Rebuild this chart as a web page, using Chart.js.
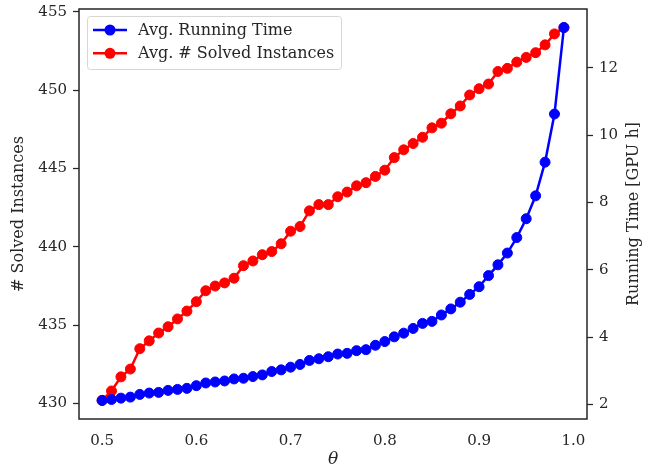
<!DOCTYPE html>
<html>
<head>
<meta charset="utf-8">
<script src="https://cdn.jsdelivr.net/npm/chart.js@4.4.1/dist/chart.umd.min.js"></script>
<style>
  body { margin: 0; background: #fff; }
</style>
</head>
<body>
<canvas id="chart" width="656" height="471"></canvas>
<script>
// theta values (x axis)
const theta = [
  0.50, 0.51, 0.52, 0.53, 0.54, 0.55, 0.56, 0.57, 0.58, 0.59,
  0.60, 0.61, 0.62, 0.63, 0.64, 0.65, 0.66, 0.67, 0.68, 0.69,
  0.70, 0.71, 0.72, 0.73, 0.74, 0.75, 0.76, 0.77, 0.78, 0.79,
  0.80, 0.81, 0.82, 0.83, 0.84, 0.85, 0.86, 0.87, 0.88, 0.89,
  0.90, 0.91, 0.92, 0.93, 0.94, 0.95, 0.96, 0.97, 0.98, 0.99
];

// Avg. running time [GPU h] (right axis)
const runningTime = [
  2.12, 2.15, 2.19, 2.22, 2.30, 2.34, 2.36, 2.42, 2.45, 2.48,
  2.56, 2.64, 2.67, 2.70, 2.76, 2.78, 2.83, 2.88, 2.98, 3.03,
  3.11, 3.19, 3.31, 3.36, 3.42, 3.50, 3.52, 3.60, 3.63, 3.76,
  3.87, 4.01, 4.12, 4.26, 4.41, 4.47, 4.66, 4.84, 5.04, 5.27,
  5.50, 5.83, 6.15, 6.50, 6.96, 7.52, 8.20, 9.20, 10.63, 13.20
];

// Avg. # solved instances (left axis)
const solvedInstances = [
  430.2, 430.8, 431.7, 432.2, 433.5, 434.0, 434.5, 434.9, 435.4, 435.9,
  436.5, 437.2, 437.5, 437.7, 438.0, 438.8, 439.1, 439.5, 439.7, 440.2,
  441.0, 441.3, 442.3, 442.7, 442.7, 443.2, 443.5, 443.9, 444.1, 444.5,
  444.9, 445.7, 446.2, 446.6, 447.0, 447.6, 447.9, 448.5, 449.0, 449.7,
  450.1, 450.4, 451.2, 451.4, 451.8, 452.1, 452.4, 452.9, 453.6, 454.0
];

const xTicks = [0.5, 0.6, 0.7, 0.8, 0.9, 1.0];
const leftTicks = [430, 435, 440, 445, 450, 455];
const rightTicks = [2, 4, 6, 8, 10, 12];

const ink = '#262626';
Chart.defaults.font.family = "'DejaVu Serif', serif";
Chart.defaults.color = ink;

const toPoints = (ys) => theta.map((t, i) => ({ x: t, y: ys[i] }));
const setTicks = (vals) => (axis) => { axis.ticks = vals.map(v => ({ value: v })); };

// frame around the plot area + right-hand title (bottom-to-top like matplotlib)
const framePlugin = {
  id: 'frame',
  afterDatasetsDraw(chart) {
    const { ctx, chartArea: a } = chart;
    ctx.save();
    ctx.strokeStyle = ink;
    ctx.lineWidth = 1.5;
    ctx.strokeRect(a.left, a.top, a.right - a.left, a.bottom - a.top);
    ctx.restore();
  },
  afterDraw(chart) {
    const { ctx, chartArea: a } = chart;
    ctx.save();
    ctx.translate(634, (a.top + a.bottom) / 2);
    ctx.rotate(-Math.PI / 2);
    ctx.font = "16px 'DejaVu Serif'";
    ctx.fillStyle = ink;
    ctx.textAlign = 'center';
    ctx.textBaseline = 'middle';
    ctx.fillText('Running Time [GPU h]', 0, 0);
    ctx.restore();
  }
};

// legend with line + marker, top-left inside the plot
const legendPlugin = {
  id: 'legendBox',
  afterDraw(chart) {
    const { ctx, chartArea: a } = chart;
    const x = a.left + 8, y = a.top + 7, w = 254, h = 53;
    ctx.save();
    ctx.beginPath();
    ctx.roundRect(x + 0.5, y + 0.5, w, h, 3);
    ctx.fillStyle = 'rgba(255,255,255,0.8)';
    ctx.fill();
    ctx.strokeStyle = '#d6d6d6';
    ctx.lineWidth = 1;
    ctx.stroke();
    chart.data.datasets.forEach((ds, i) => {
      const cy = y + 14 + i * 23.3;
      ctx.strokeStyle = ds.borderColor;
      ctx.lineWidth = 2.5;
      ctx.beginPath();
      ctx.moveTo(x + 6, cy);
      ctx.lineTo(x + 40, cy);
      ctx.stroke();
      ctx.fillStyle = ds.borderColor;
      ctx.beginPath();
      ctx.arc(x + 23, cy, 5.5, 0, Math.PI * 2);
      ctx.fill();
      ctx.fillStyle = ink;
      ctx.font = "16px 'DejaVu Serif'";
      ctx.textAlign = 'left';
      ctx.textBaseline = 'middle';
      ctx.fillText(ds.label, x + 51, cy + 1);
    });
    ctx.restore();
  }
};

const fitY = (w) => (s) => { s.width = w; s.paddingTop = 0; s.paddingBottom = 0; };

new Chart(document.getElementById('chart'), {
  type: 'line',
  data: {
    datasets: [
      {
        label: 'Avg. Running Time',
        data: toPoints(runningTime),
        yAxisID: 'yRight',
        borderColor: '#0000ff',
        backgroundColor: '#0000ff',
        borderWidth: 2.5,
        pointRadius: 5,
        pointBorderWidth: 1,
        tension: 0
      },
      {
        label: 'Avg. # Solved Instances',
        data: toPoints(solvedInstances),
        yAxisID: 'yLeft',
        borderColor: '#ff0000',
        backgroundColor: '#ff0000',
        borderWidth: 2.5,
        pointRadius: 5,
        pointBorderWidth: 1,
        tension: 0
      }
    ]
  },
  options: {
    responsive: false,
    devicePixelRatio: 1,
    animation: false,
    layout: { padding: { top: 9, left: 0, right: 0, bottom: 0 } },
    plugins: { legend: { display: false }, tooltip: { enabled: false } },
    scales: {
      x: {
        type: 'linear',
        min: 0.4755,
        max: 1.0145,
        afterBuildTicks: setTicks(xTicks),
        afterFit: (s) => { s.height = 52; s.paddingLeft = 0; s.paddingRight = 0; },
        grid: { display: false },
        border: { display: false },
        ticks: { font: { size: 15 }, padding: 5, maxRotation: 0, callback: (v) => v.toFixed(1) },
        title: { display: true, text: 'θ', font: { size: 17, style: 'italic' }, padding: { top: 0, bottom: 1 } }
      },
      yLeft: {
        type: 'linear',
        position: 'left',
        min: 429.01,
        max: 455.19,
        afterBuildTicks: setTicks(leftTicks),
        afterFit: fitY(79),
        grid: { drawOnChartArea: false, tickLength: 6, tickColor: ink, tickWidth: 1.25 },
        border: { display: false },
        ticks: { font: { size: 15 }, padding: 6 },
        title: { display: true, text: '# Solved Instances', font: { size: 16 }, padding: { top: 9, bottom: 0 } }
      },
      yRight: {
        type: 'linear',
        position: 'right',
        min: 1.57,
        max: 13.75,
        afterBuildTicks: setTicks(rightTicks),
        afterFit: fitY(69),
        grid: { drawOnChartArea: false, tickLength: 6, tickColor: ink, tickWidth: 1.25 },
        border: { display: false },
        ticks: { font: { size: 15 }, padding: 6 }
      }
    }
  },
  plugins: [framePlugin, legendPlugin]
});
</script>
</body>
</html>
